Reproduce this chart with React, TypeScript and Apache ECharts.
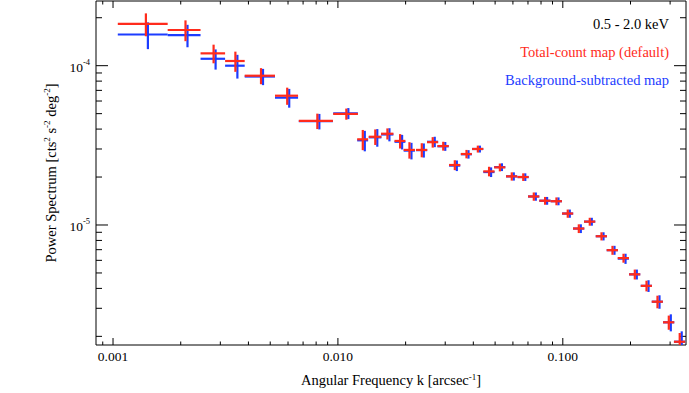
import React, { useEffect, useRef } from "react";
import * as echarts from "echarts";

// ---- data ----
const kCenter = [
  0.0014, 0.0021, 0.0028, 0.0035, 0.00455, 0.00595, 0.0081, 0.0109, 0.0129, 0.01466,
  0.0166, 0.0189, 0.0208, 0.0236, 0.0264, 0.0294, 0.0331, 0.0373, 0.0419, 0.047,
  0.0525, 0.0593, 0.0667, 0.0743, 0.0834, 0.0937, 0.1052, 0.1178, 0.1318, 0.1486,
  0.1663, 0.1862, 0.209, 0.2356, 0.2636, 0.296, 0.331,
];
const kHalfWidth = [
  0.00035, 0.00035, 0.00035, 0.00035, 0.0007, 0.0007, 0.0014, 0.00137, 0.00072, 0.00095,
  0.00105, 0.00105, 0.0012, 0.00135, 0.0015, 0.0017, 0.0019, 0.0021, 0.0024, 0.0027,
  0.003, 0.0034, 0.0038, 0.0043, 0.0048, 0.0054, 0.006, 0.0068, 0.0076, 0.0085,
  0.0096, 0.0107, 0.012, 0.0135, 0.015, 0.017, 0.019,
];
const totalPower = [
  1.83e-4, 1.675e-4, 1.195e-4, 1.07e-4, 8.65e-5, 6.48e-5, 4.5e-5, 4.98e-5, 3.45e-5, 3.58e-5,
  3.74e-5, 3.37e-5, 2.96e-5, 2.96e-5, 3.31e-5, 3.13e-5, 2.38e-5, 2.79e-5, 3.0e-5, 2.17e-5,
  2.3e-5, 2.02e-5, 2.0e-5, 1.51e-5, 1.42e-5, 1.41e-5, 1.18e-5, 9.5e-6, 1.05e-5, 8.5e-6,
  6.95e-6, 6.2e-6, 4.9e-6, 4.15e-6, 3.3e-6, 2.45e-6, 1.85e-6,
];
const totalErr = [
  3.0e-5, 2.5e-5, 1.6e-5, 1.55e-5, 1.0e-5, 8.0e-6, 5.0e-6, 4.0e-6, 5.0e-6, 4.0e-6,
  3.0e-6, 3.5e-6, 3.5e-6, 3.0e-6, 2.5e-6, 2.0e-6, 1.7e-6, 1.7e-6, 1.5e-6, 1.5e-6,
  1.3e-6, 1.2e-6, 1.1e-6, 9.0e-7, 8.0e-7, 8.0e-7, 7.0e-7, 6.0e-7, 6.0e-7, 5.0e-7,
  4.5e-7, 4.0e-7, 3.5e-7, 3.2e-7, 3.0e-7, 2.5e-7, 2.5e-7,
];
const bgPower = [
  1.57e-4, 1.555e-4, 1.105e-4, 1.0e-4, 8.55e-5, 6.3e-5, 4.48e-5, 5.02e-5, 3.4e-5, 3.55e-5,
  3.7e-5, 3.33e-5, 2.93e-5, 2.95e-5, 3.33e-5, 3.12e-5, 2.36e-5, 2.78e-5, 3.0e-5, 2.15e-5,
  2.31e-5, 2.02e-5, 2.0e-5, 1.51e-5, 1.42e-5, 1.41e-5, 1.18e-5, 9.5e-6, 1.05e-5, 8.5e-6,
  6.95e-6, 6.15e-6, 4.9e-6, 4.15e-6, 3.3e-6, 2.45e-6, 1.85e-6,
];
const bgErr = [
  3.0e-5, 2.5e-5, 1.6e-5, 1.7e-5, 1.0e-5, 8.5e-6, 5.0e-6, 4.0e-6, 5.0e-6, 4.5e-6,
  3.5e-6, 3.5e-6, 3.5e-6, 3.0e-6, 2.5e-6, 2.0e-6, 1.8e-6, 1.7e-6, 1.5e-6, 1.5e-6,
  1.3e-6, 1.2e-6, 1.1e-6, 9.0e-7, 8.0e-7, 8.0e-7, 7.0e-7, 6.0e-7, 6.0e-7, 5.0e-7,
  4.5e-7, 4.5e-7, 3.5e-7, 3.5e-7, 3.2e-7, 3.0e-7, 3.0e-7,
];

const xMajorTicks = [0.001, 0.01, 0.1];
const xMinorTicks = [
  0.0009, 0.002, 0.003, 0.004, 0.005, 0.006, 0.007, 0.008, 0.009,
  0.02, 0.03, 0.04, 0.05, 0.06, 0.07, 0.08, 0.09, 0.2, 0.3,
];
const xTickLabels = ["0.001", "0.010", "0.100"];
const yMajorTicks = [1e-5, 1e-4];
const yMinorTicks = [
  2e-6, 3e-6, 4e-6, 5e-6, 6e-6, 7e-6, 8e-6, 9e-6,
  2e-5, 3e-5, 4e-5, 5e-5, 6e-5, 7e-5, 8e-5, 9e-5, 2e-4,
];

const X_MIN = 0.00084;
const X_MAX = 0.353;
const Y_MIN = 1.765e-6;
const Y_MAX = 2.547e-4;

const RED = "#ff2b1c";
const BLUE = "#1c3cff";
const FONT = "Liberation Serif";

const isDecade = (v: number) => {
  const e = Math.log10(v);
  return Math.abs(e - Math.round(e)) < 1e-6;
};

export default function App() {
  const ref = useRef<HTMLDivElement>(null);

  useEffect(() => {
    if (!ref.current) return;
    const chart = echarts.init(ref.current, undefined, { renderer: "svg" });

    const errRender = (vOffset: number) => (params: any, api: any) => {
      const x = api.value(0);
      const dx = api.value(1);
      const y = api.value(2);
      const dy = api.value(3);
      const pL = api.coord([x - dx, y]);
      const pR = api.coord([x + dx, y]);
      const pC = api.coord([x, y]);
      const pT = api.coord([x, y + dy]);
      const pB = api.coord([x, Math.max(y - dy, 1e-9)]);
      const color = api.visual("color");
      return {
        type: "group",
        children: [
          {
            type: "line",
            shape: { x1: pL[0], y1: pC[1], x2: pR[0], y2: pC[1] },
            style: { stroke: color, lineWidth: 2.2 },
          },
          {
            type: "line",
            shape: { x1: pC[0] + vOffset, y1: pT[1], x2: pC[0] + vOffset, y2: pB[1] },
            style: { stroke: color, lineWidth: 2.2 },
          },
        ],
      };
    };

    const xTickRender = (len: number) => (params: any, api: any) => {
      const cs = params.coordSys;
      const px = api.coord([api.value(0), Y_MIN])[0];
      const bottom = cs.y + cs.height;
      const top = cs.y;
      return {
        type: "group",
        children: [
          { type: "line", shape: { x1: px, y1: bottom, x2: px, y2: bottom - len }, style: { stroke: "#000", lineWidth: 1 } },
          { type: "line", shape: { x1: px, y1: top, x2: px, y2: top + len }, style: { stroke: "#000", lineWidth: 1 } },
        ],
      };
    };
    const yTickRender = (len: number) => (params: any, api: any) => {
      const cs = params.coordSys;
      const py = api.coord([X_MIN, api.value(1)])[1];
      const left = cs.x;
      const right = cs.x + cs.width;
      return {
        type: "group",
        children: [
          { type: "line", shape: { x1: left, y1: py, x2: left + len, y2: py }, style: { stroke: "#000", lineWidth: 1 } },
          { type: "line", shape: { x1: right, y1: py, x2: right - len, y2: py }, style: { stroke: "#000", lineWidth: 1 } },
        ],
      };
    };

    const bgData = kCenter.map((k, i) => [k, kHalfWidth[i], bgPower[i], bgErr[i]]);
    const totData = kCenter.map((k, i) => [k, kHalfWidth[i], totalPower[i], totalErr[i]]);

    const supStyle = { fontFamily: FONT, fontSize: 9, color: "#000", verticalAlign: "top", lineHeight: 16 };

    chart.setOption({
      animation: false,
      backgroundColor: "#fff",
      textStyle: { fontFamily: FONT },
      grid: {
        left: 96,
        right: 2,
        top: 1,
        bottom: 48,
        show: true,
        borderColor: "#000",
        borderWidth: 1,
        backgroundColor: "transparent",
      },
      xAxis: {
        type: "log",
        logBase: 10,
        min: X_MIN,
        max: X_MAX,
        axisLine: { show: false },
        axisTick: { show: false },
        splitLine: { show: false },
        axisLabel: {
          margin: 4,
          fontFamily: FONT,
          fontSize: 13.5,
          color: "#000",
          formatter: (v: number) => {
            if (!isDecade(v)) return "";
            const idx = xMajorTicks.findIndex((t) => Math.abs(Math.log10(t) - Math.log10(v)) < 1e-6);
            return idx >= 0 ? xTickLabels[idx] : "";
          },
        },
        name: "Angular Frequency k [arcsec{s|-1}]",
        nameLocation: "middle",
        nameGap: 27,
        nameTextStyle: {
          fontFamily: FONT,
          fontSize: 14.5,
          color: "#000",
          lineHeight: 16,
          rich: { s: supStyle },
        },
      },
      yAxis: {
        type: "log",
        logBase: 10,
        min: Y_MIN,
        max: Y_MAX,
        axisLine: { show: false },
        axisTick: { show: false },
        splitLine: { show: false },
        axisLabel: {
          margin: 6,
          color: "#000",
          formatter: (v: number) => {
            if (!isDecade(v)) return "";
            const e = Math.round(Math.log10(v));
            return "{b|10}{s|" + e + "}";
          },
          rich: {
            b: { fontFamily: FONT, fontSize: 13.5, color: "#000", lineHeight: 17, verticalAlign: "bottom" },
            s: { fontFamily: FONT, fontSize: 8.5, color: "#000", lineHeight: 17, verticalAlign: "top" },
          },
        },
        name: "Power Spectrum [cts{s|2} s{s|-2} deg{s|-2}]",
        nameLocation: "middle",
        nameRotate: 90,
        nameGap: 34,
        nameTextStyle: {
          fontFamily: FONT,
          fontSize: 14.5,
          color: "#000",
          lineHeight: 16,
          rich: { s: supStyle },
        },
      },
      graphic: [
        {
          type: "text",
          x: 669,
          y: 24,
          style: { text: "0.5 - 2.0 keV", fill: "#000", font: `14.5px "${FONT}"`, textAlign: "right", textVerticalAlign: "middle" },
        },
        {
          type: "text",
          x: 669,
          y: 52,
          style: { text: "Total-count map (default)", fill: RED, font: `14.5px "${FONT}"`, textAlign: "right", textVerticalAlign: "middle" },
        },
        {
          type: "text",
          x: 669,
          y: 80,
          style: { text: "Background-subtracted map", fill: BLUE, font: `14.5px "${FONT}"`, textAlign: "right", textVerticalAlign: "middle" },
        },
      ],
      series: [
        {
          type: "custom",
          name: "x major ticks",
          coordinateSystem: "cartesian2d",
          renderItem: xTickRender(7),
          data: xMajorTicks.map((t) => [t, Y_MIN]),
          encode: { x: 0, y: 1 },
          silent: true,
        },
        {
          type: "custom",
          name: "x minor ticks",
          coordinateSystem: "cartesian2d",
          renderItem: xTickRender(3.5),
          data: xMinorTicks.map((t) => [t, Y_MIN]),
          encode: { x: 0, y: 1 },
          silent: true,
        },
        {
          type: "custom",
          name: "y major ticks",
          coordinateSystem: "cartesian2d",
          renderItem: yTickRender(12),
          data: yMajorTicks.map((t) => [X_MIN, t]),
          encode: { x: 0, y: 1 },
          silent: true,
        },
        {
          type: "custom",
          name: "y minor ticks",
          coordinateSystem: "cartesian2d",
          renderItem: yTickRender(6),
          data: yMinorTicks.map((t) => [X_MIN, t]),
          encode: { x: 0, y: 1 },
          silent: true,
        },
        {
          type: "custom",
          name: "Background-subtracted map",
          coordinateSystem: "cartesian2d",
          renderItem: errRender(2),
          data: bgData,
          encode: { x: 0, y: 2 },
          itemStyle: { color: BLUE },
          clip: true,
        },
        {
          type: "custom",
          name: "Total-count map (default)",
          coordinateSystem: "cartesian2d",
          renderItem: errRender(0),
          data: totData,
          encode: { x: 0, y: 2 },
          itemStyle: { color: RED },
          clip: true,
        },
      ],
    });

    return () => chart.dispose();
  }, []);

  return (
    <div
      ref={ref}
      style={{ position: "fixed", left: 0, top: 0, width: 689, height: 393, background: "#fff" }}
    />
  );
}
